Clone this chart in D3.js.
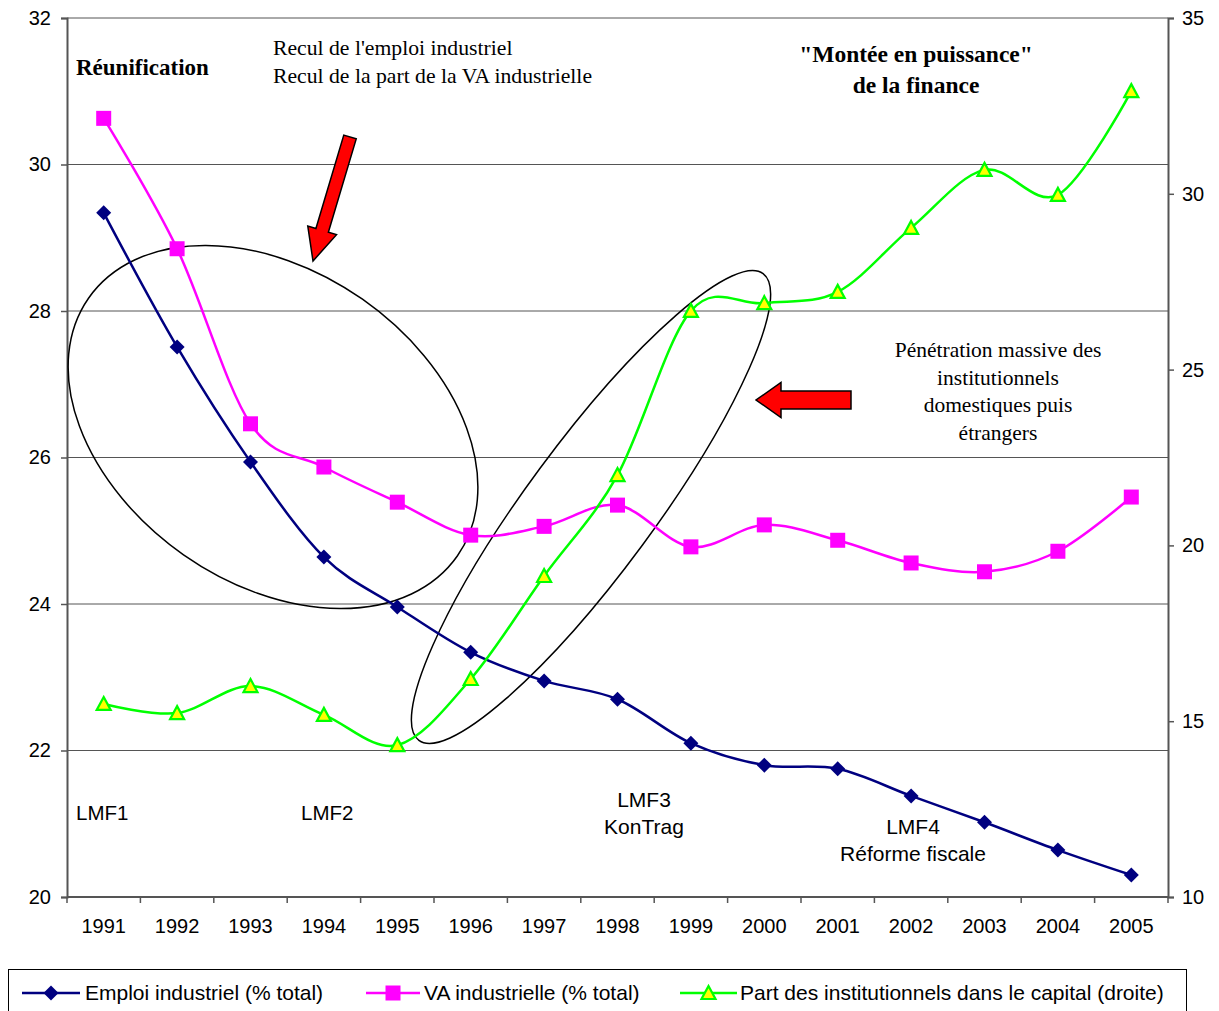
<!DOCTYPE html>
<html><head><meta charset="utf-8">
<script src="https://cdn.jsdelivr.net/npm/d3@7"></script>
<style>body{margin:0;background:#fff}svg{display:block}</style>
</head><body>
<svg id="c" width="1219" height="1011"></svg>
<script>
const years = [1991,1992,1993,1994,1995,1996,1997,1998,1999,2000,2001,2002,2003,2004,2005];
const emploi = [29.34,27.51,25.94,24.64,23.96,23.34,22.95,22.70,22.10,21.80,21.75,21.38,21.02,20.64,20.30];
const vaInd = [30.63,28.85,26.46,25.87,25.39,24.94,25.06,25.35,24.78,25.08,24.87,24.56,24.44,24.72,25.46];
const partInst = [15.49,15.23,16.0,15.18,14.32,16.20,19.13,22.0,26.67,26.89,27.21,29.03,30.68,29.97,32.92];
const leftTicks = [20,22,24,26,28,30,32];
const rightTicks = [10,15,20,25,30,35];
const seriesNames = ["Emploi industriel (% total)","VA industrielle (% total)","Part des institutionnels dans le capital (droite)"];

const svg = d3.select("#c");
const L = 67, R = 1168, T = 18, B = 897;
const x = d3.scaleBand().domain(years).range([L, R]);
const yL = d3.scaleLinear().domain([20,32]).range([B, T]);
const yR = d3.scaleLinear().domain([10,35]).range([B, T]);
const sans = "Arial, 'Liberation Sans', sans-serif";
const serif = "'Times New Roman', 'Liberation Serif', serif";

// gridlines
svg.append("g").selectAll("line").data(leftTicks.filter(d=>d>20)).join("line")
  .attr("x1", L).attr("x2", R).attr("y1", d=>yL(d)).attr("y2", d=>yL(d))
  .attr("stroke", "#555").attr("stroke-width", 1);

// axes
const axL = svg.append("g").attr("transform", `translate(${L},0)`)
  .call(d3.axisLeft(yL).tickValues(leftTicks).tickSize(6).tickPadding(10));
const axR = svg.append("g").attr("transform", `translate(${R},0)`)
  .call(d3.axisRight(yR).tickValues(rightTicks).tickSize(6).tickPadding(8));
const axB = svg.append("g").attr("transform", `translate(0,${B})`)
  .call(d3.axisBottom(x).tickSize(0).tickPadding(22));
// x ticks at band boundaries
svg.append("g").selectAll("line").data(d3.range(years.length+1)).join("line")
  .attr("x1", i=>L + i*x.step()).attr("x2", i=>L + i*x.step())
  .attr("y1", B).attr("y2", B+6).attr("stroke", "#555").attr("stroke-width", 1.5);
[axL, axR, axB].forEach(a => {
  a.select(".domain").attr("stroke", "#555").attr("stroke-width", 2);
  a.selectAll(".tick line").attr("stroke", "#555").attr("stroke-width", 1.5);
  a.selectAll("text").attr("font-family", sans).attr("font-size", 20).attr("fill", "#000");
});
axB.select(".domain").attr("d", `M${L},0H${R}`);

// ellipses (annotations)
svg.append("ellipse").attr("cx", 273).attr("cy", 427).attr("rx", 225).attr("ry", 156)
  .attr("transform", "rotate(35,273,427)").attr("fill", "none").attr("stroke", "#000").attr("stroke-width", 1.5);
svg.append("ellipse").attr("cx", 591).attr("cy", 507).attr("rx", 290).attr("ry", 64)
  .attr("transform", "rotate(-53.6,591,507)").attr("fill", "none").attr("stroke", "#000").attr("stroke-width", 1.5);

// series
const series = [
  {vals: emploi, y: yL, color: "#000080", marker: "diamond"},
  {vals: vaInd, y: yL, color: "#FF00FF", marker: "square"},
  {vals: partInst, y: yR, color: "#00FF00", marker: "triangle"}
];
const cx = d => x(d) + x.bandwidth()/2;
function drawMarker(g, type, color, px, py) {
  if (type === "diamond") {
    g.append("path").attr("d", `M${px},${py-7.5}L${px+7.5},${py}L${px},${py+7.5}L${px-7.5},${py}Z`).attr("fill", color);
  } else if (type === "square") {
    g.append("rect").attr("x", px-7.5).attr("y", py-7.5).attr("width", 15).attr("height", 15).attr("fill", color);
  } else {
    g.append("path").attr("d", `M${px},${py-7}L${px+7},${py+6}L${px-7},${py+6}Z`)
      .attr("fill", "#FFFF00").attr("stroke", color).attr("stroke-width", 2.2).attr("stroke-linejoin", "miter");
  }
}
series.forEach(s => {
  const line = d3.line().x((d,i)=>cx(years[i])).y(d=>s.y(d)).curve(d3.curveCardinal.tension(0));
  svg.append("path").datum(s.vals).attr("d", line).attr("fill", "none").attr("stroke", s.color).attr("stroke-width", 2.5);
});
series.forEach(s => {
  const g = svg.append("g");
  s.vals.forEach((v,i) => drawMarker(g, s.marker, s.color, cx(years[i]), s.y(v)));
});

// red arrows
function arrow(x0,y0,x1,y1,shaftW,headW,headL){
  const dx=x1-x0, dy=y1-y0, len=Math.hypot(dx,dy), ux=dx/len, uy=dy/len, nx=-uy, ny=ux;
  const bx=x1-ux*headL, by=y1-uy*headL;
  const pts=[[x0+nx*shaftW/2,y0+ny*shaftW/2],[bx+nx*shaftW/2,by+ny*shaftW/2],[bx+nx*headW/2,by+ny*headW/2],[x1,y1],
    [bx-nx*headW/2,by-ny*headW/2],[bx-nx*shaftW/2,by-ny*shaftW/2],[x0-nx*shaftW/2,y0-ny*shaftW/2]];
  svg.append("path").attr("d","M"+pts.map(p=>p.join(",")).join("L")+"Z")
    .attr("fill","#FF0000").attr("stroke","#000").attr("stroke-width",1.5).attr("stroke-linejoin","miter");
}
arrow(350,137,313,261,13,30,32);
arrow(851,400,756,400,18,35,25);

// annotation texts
function txt(s,xx,yy,opt={}){
  svg.append("text").attr("x",xx).attr("y",yy).text(s)
    .attr("font-family",opt.f||serif).attr("font-size",opt.size||21.7)
    .attr("font-weight",opt.bold?"bold":"normal").attr("text-anchor",opt.anchor||"start").attr("fill","#000");
}
txt("Réunification",76,75,{bold:true,size:23});
txt("Recul de l'emploi industriel",273,55);
txt("Recul de la part de la VA industrielle",273,83);
txt("\"Montée en puissance\"",916,62,{bold:true,size:23.5,anchor:"middle"});
txt("de la finance",916,93,{bold:true,size:23.5,anchor:"middle"});
txt("Pénétration massive des",998,357,{size:21.5,anchor:"middle"});
txt("institutionnels",998,385,{size:21.5,anchor:"middle"});
txt("domestiques puis",998,412,{size:21.5,anchor:"middle"});
txt("étrangers",998,440,{size:21.5,anchor:"middle"});
txt("LMF1",76,820,{f:sans,size:20.5});
txt("LMF2",301,820,{f:sans,size:20.5});
txt("LMF3",644,807,{f:sans,size:21,anchor:"middle"});
txt("KonTrag",644,834,{f:sans,size:21,anchor:"middle"});
txt("LMF4",913,834,{f:sans,size:21,anchor:"middle"});
txt("Réforme fiscale",913,861,{f:sans,size:21,anchor:"middle"});

// legend
svg.append("rect").attr("x",8.5).attr("y",969.5).attr("width",1178).attr("height",50)
  .attr("fill","#fff").attr("stroke","#000").attr("stroke-width",1);
const legX = [[22,80,85],[366,420,424],[680,737,740]];
series.forEach((s,i)=>{
  const [a,b,t]=legX[i], ly=993;
  svg.append("line").attr("x1",a).attr("x2",b).attr("y1",ly).attr("y2",ly).attr("stroke",s.color).attr("stroke-width",2.5);
  drawMarker(svg.append("g"), s.marker, s.color, (a+b)/2, ly);
  svg.append("text").attr("x",t).attr("y",ly+7).text(seriesNames[i])
    .attr("font-family",sans).attr("font-size",21).attr("fill","#000");
});
</script>
</body></html>
